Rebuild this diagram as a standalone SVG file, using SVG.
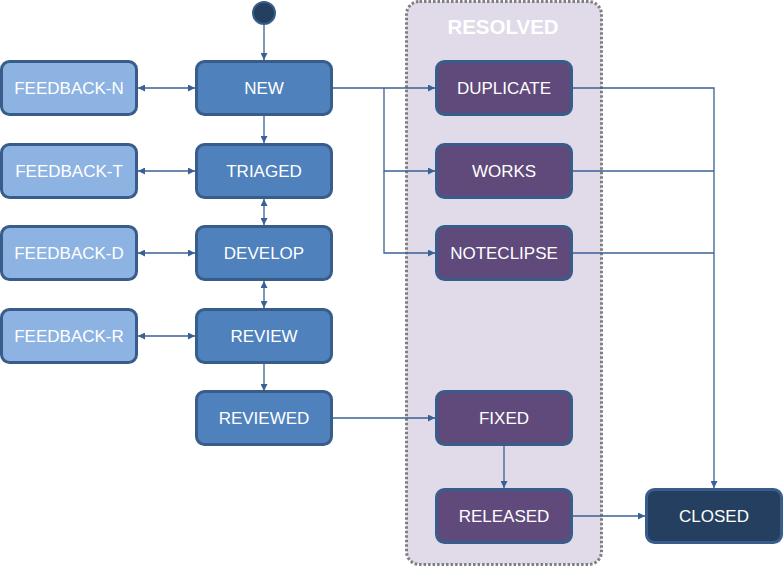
<svg xmlns="http://www.w3.org/2000/svg" width="783" height="566" viewBox="0 0 783 566">
<defs>
<marker id="ah" viewBox="0 0 10 10" refX="10" refY="5" markerWidth="7" markerHeight="7" markerUnits="userSpaceOnUse" orient="auto-start-reverse">
<path d="M0,0 L10,5 L0,10 z" fill="#3A6193"/>
</marker>
<style>
.n rect{stroke:#385D8A;stroke-width:3}
.fb rect{fill:#8DB3E2}
.mb rect{fill:#4F81BD}
.pb rect{fill:#604A7B}
.cb rect{fill:#243F60}
.n text{fill:#fff;font-family:"Liberation Sans",Arial,sans-serif;font-size:17px;text-anchor:middle}
.e{fill:none;stroke:#3A6193;stroke-width:1.3}
</style>
</defs>
<g id="resolved">
<rect x="406.5" y="1.5" width="195" height="563" rx="13" fill="#E0DAE9" stroke="#7F7F7F" stroke-width="3" stroke-dasharray="2.5 2"/>
<text x="503" y="34" fill="#fff" font-family="'Liberation Sans',Arial,sans-serif" font-weight="bold" font-size="20.5" text-anchor="middle">RESOLVED</text>
</g>
<g id="start"><circle cx="264" cy="13" r="11" fill="#243F60" stroke="#385D8A" stroke-width="2"/></g>
<g id="edges">
<path class="e" d="M264,25 V60" marker-end="url(#ah)"/>
<path class="e" d="M264,116 V143" marker-end="url(#ah)"/>
<path class="e" d="M264,199 V225" marker-start="url(#ah)" marker-end="url(#ah)"/>
<path class="e" d="M264,281 V308" marker-start="url(#ah)" marker-end="url(#ah)"/>
<path class="e" d="M264,364 V391" marker-end="url(#ah)"/>
<path class="e" d="M138,88 H195" marker-start="url(#ah)" marker-end="url(#ah)"/>
<path class="e" d="M138,171 H195" marker-start="url(#ah)" marker-end="url(#ah)"/>
<path class="e" d="M138,253 H195" marker-start="url(#ah)" marker-end="url(#ah)"/>
<path class="e" d="M138,336 H195" marker-start="url(#ah)" marker-end="url(#ah)"/>
<path class="e" d="M333,88 H435" marker-end="url(#ah)"/>
<path class="e" d="M384,88 V171 H435" marker-end="url(#ah)"/>
<path class="e" d="M384,171 V253 H435" marker-end="url(#ah)"/>
<path class="e" d="M333,418 H435" marker-end="url(#ah)"/>
<path class="e" d="M504,446 V488" marker-end="url(#ah)"/>
<path class="e" d="M573,516 H645" marker-end="url(#ah)"/>
<path class="e" d="M573,88 H714 V488" marker-end="url(#ah)"/>
<path class="e" d="M573,171 H714"/>
<path class="e" d="M573,253 H714"/>
</g>
<g id="feedback-n" class="n fb"><rect x="1.5" y="61.5" width="135" height="53" rx="8"/><text x="69" y="94">FEEDBACK-N</text></g>
<g id="feedback-t" class="n fb"><rect x="1.5" y="144.5" width="135" height="53" rx="8"/><text x="69" y="177">FEEDBACK-T</text></g>
<g id="feedback-d" class="n fb"><rect x="1.5" y="226.5" width="135" height="53" rx="8"/><text x="69" y="259">FEEDBACK-D</text></g>
<g id="feedback-r" class="n fb"><rect x="1.5" y="309.5" width="135" height="53" rx="8"/><text x="69" y="342">FEEDBACK-R</text></g>
<g id="new" class="n mb"><rect x="196.5" y="61.5" width="135" height="53" rx="8"/><text x="264" y="94">NEW</text></g>
<g id="triaged" class="n mb"><rect x="196.5" y="144.5" width="135" height="53" rx="8"/><text x="264" y="177">TRIAGED</text></g>
<g id="develop" class="n mb"><rect x="196.5" y="226.5" width="135" height="53" rx="8"/><text x="264" y="259">DEVELOP</text></g>
<g id="review" class="n mb"><rect x="196.5" y="309.5" width="135" height="53" rx="8"/><text x="264" y="342">REVIEW</text></g>
<g id="reviewed" class="n mb"><rect x="196.5" y="391.5" width="135" height="53" rx="8"/><text x="264" y="424">REVIEWED</text></g>
<g id="duplicate" class="n pb"><rect x="436.5" y="61.5" width="135" height="53" rx="8"/><text x="504" y="94">DUPLICATE</text></g>
<g id="works" class="n pb"><rect x="436.5" y="144.5" width="135" height="53" rx="8"/><text x="504" y="177">WORKS</text></g>
<g id="noteclipse" class="n pb"><rect x="436.5" y="226.5" width="135" height="53" rx="8"/><text x="504" y="259">NOTECLIPSE</text></g>
<g id="fixed" class="n pb"><rect x="436.5" y="391.5" width="135" height="53" rx="8"/><text x="504" y="424">FIXED</text></g>
<g id="released" class="n pb"><rect x="436.5" y="489.5" width="135" height="53" rx="8"/><text x="504" y="522">RELEASED</text></g>
<g id="closed" class="n cb"><rect x="646.5" y="489.5" width="135" height="53" rx="8"/><text x="714" y="522">CLOSED</text></g>
</svg>
